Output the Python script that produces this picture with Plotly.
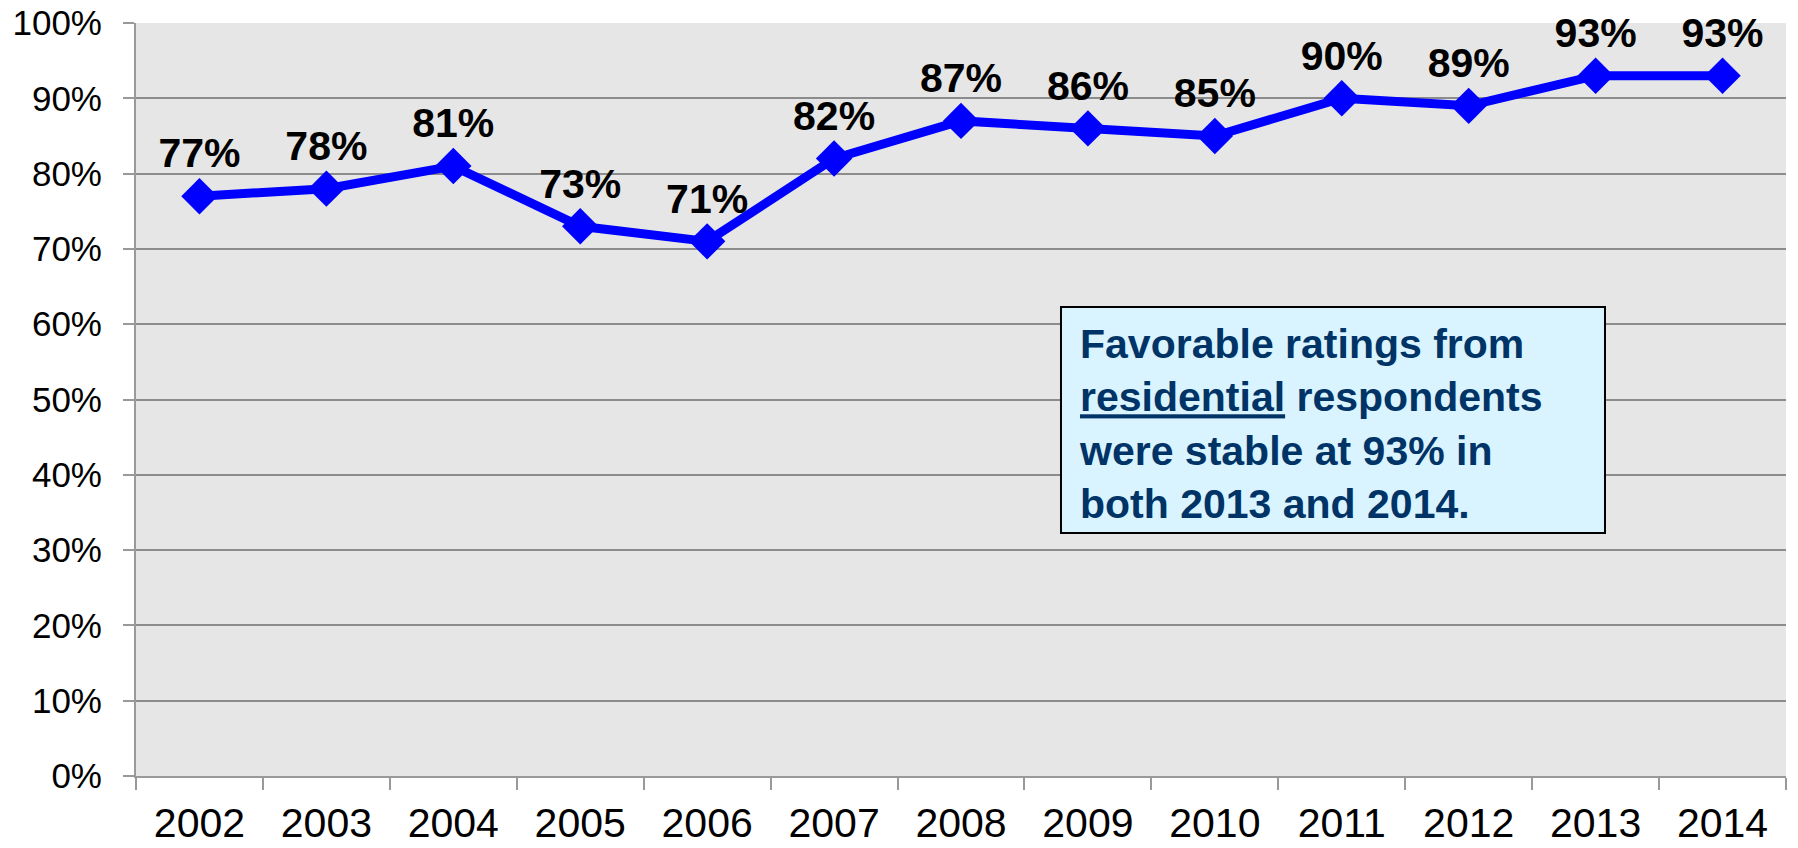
import plotly.graph_objects as go

years = ["2002", "2003", "2004", "2005", "2006", "2007", "2008", "2009", "2010", "2011", "2012", "2013", "2014"]
favorable = [77, 78, 81, 73, 71, 82, 87, 86, 85, 90, 89, 93, 93]
labels = [f"{v}%" for v in favorable]

note = ("<b>Favorable ratings from<br><u>residential</u> respondents<br>"
        "were stable at 93% in<br>both 2013 and 2014.</b>")

FONT = "Arial, Liberation Sans, sans-serif"

fig = go.Figure()
fig.add_trace(go.Scatter(
    x=years, y=favorable, mode="lines+markers+text",
    text=labels, textposition="top center",
    textfont=dict(family=FONT, size=41, color="black", weight="bold"),
    line=dict(color="#0000FF", width=9),
    marker=dict(symbol="diamond", size=28, color="#0000FF"),
    cliponaxis=False, showlegend=False, hoverinfo="skip",
))

# note box
fig.add_shape(
    type="rect", xref="paper", yref="paper",
    x0=0.5606, x1=0.8903, y0=0.3227, y1=0.6228,
    fillcolor="#D9F3FF", line=dict(color="black", width=2), layer="above",
)
fig.add_annotation(
    xref="paper", yref="paper", x=0.5705, y=0.468,
    xanchor="left", yanchor="middle",
    text=note, align="left", showarrow=False,
    font=dict(family=FONT, size=41, color="#003366"),
)

fig.update_layout(
    width=1798, height=848,
    margin=dict(l=136, r=12, t=23, b=72, autoexpand=False),
    paper_bgcolor="white", plot_bgcolor="#E6E6E6",
    font=dict(family=FONT, color="black"),
)
fig.update_xaxes(
    type="category", range=[-0.5, len(years) - 0.5],
    showgrid=False, tickson="boundaries", automargin=False,
    ticks="outside", ticklen=12, tickwidth=2, tickcolor="#999999",
    showline=True, linecolor="#999999", linewidth=2,
    tickfont=dict(size=41, family=FONT), ticklabelstandoff=10,
)
fig.update_yaxes(
    range=[0, 100], dtick=10, ticksuffix="%", automargin=False,
    showgrid=True, gridcolor="#8C8C8C", gridwidth=2,
    ticks="outside", ticklen=11, tickwidth=2, tickcolor="#999999",
    showline=True, linecolor="#999999", linewidth=2, zeroline=False,
    tickfont=dict(size=35, family=FONT), ticklabelstandoff=14,
)

fig.write_html(
    "out.html",
    config={"displayModeBar": False},
    post_script="document.body.style.margin='0';document.body.style.overflow='hidden';",
)
